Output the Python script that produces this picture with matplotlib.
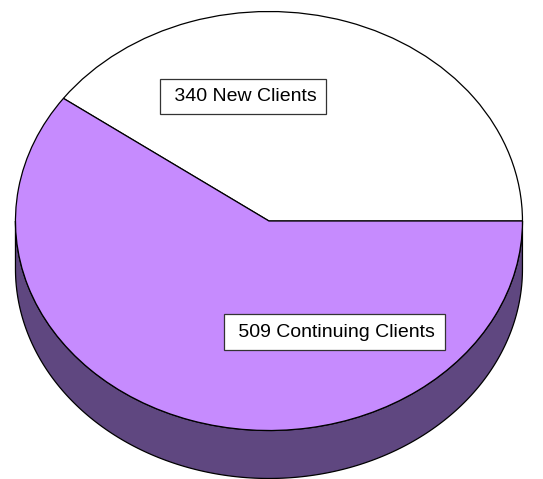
import numpy as np
import matplotlib
matplotlib.use("Agg")
import matplotlib.pyplot as plt
from matplotlib.patches import Polygon

# data
labels = ["New Clients", "Continuing Clients"]
counts = [340, 509]
top_colors = ["#FFFFFF", "#C68BFE"]
side_colors = ["#FFFFFF", "#5F4780"]

depth = 0.229  # thickness of the pie, in radius units of the y axis

fig = plt.figure(figsize=(5.43, 4.79), dpi=100)
ax = fig.add_axes([0, 0, 1, 1])

# side walls first (only the front half, 180..360 deg, can be seen)
fracs = np.array(counts) / sum(counts)
edges = np.concatenate([[0], np.cumsum(fracs) * 360])
for i in range(len(counts)):
    a0 = max(edges[i], 180)
    a1 = min(edges[i + 1], 360)
    if a1 <= a0:
        continue
    t = np.radians(np.linspace(a0, a1, 200))
    top = np.column_stack([np.cos(t), np.sin(t)])
    bot = np.column_stack([np.cos(t[::-1]), np.sin(t[::-1]) - depth])
    ax.add_patch(Polygon(np.vstack([top, bot]), closed=True,
                         facecolor=side_colors[i], edgecolor="black",
                         linewidth=0.9, zorder=1))

# top face
wedges, _ = ax.pie(counts, colors=top_colors, startangle=0, counterclock=True,
                   radius=1, wedgeprops=dict(edgecolor="black", linewidth=0.9))
for w in wedges:
    w.set_zorder(2)

ax.set_aspect("auto")
ax.set_xlim(-1.061, 1.081)
ax.set_ylim(-1.2315, 1.0549)
ax.axis("off")

# label boxes
label_pos = [(-0.103, 0.594), (0.258, -0.530)]
for (x, y), n, lab in zip(label_pos, counts, labels):
    ax.text(x, y, f" {n} {lab}", ha="center", va="center", fontsize=14,
            family="Liberation Sans", zorder=5,
            bbox=dict(boxstyle="square,pad=0.48", facecolor="white",
                      edgecolor="#333333", linewidth=0.9))

fig.savefig("out.png", dpi=100)
